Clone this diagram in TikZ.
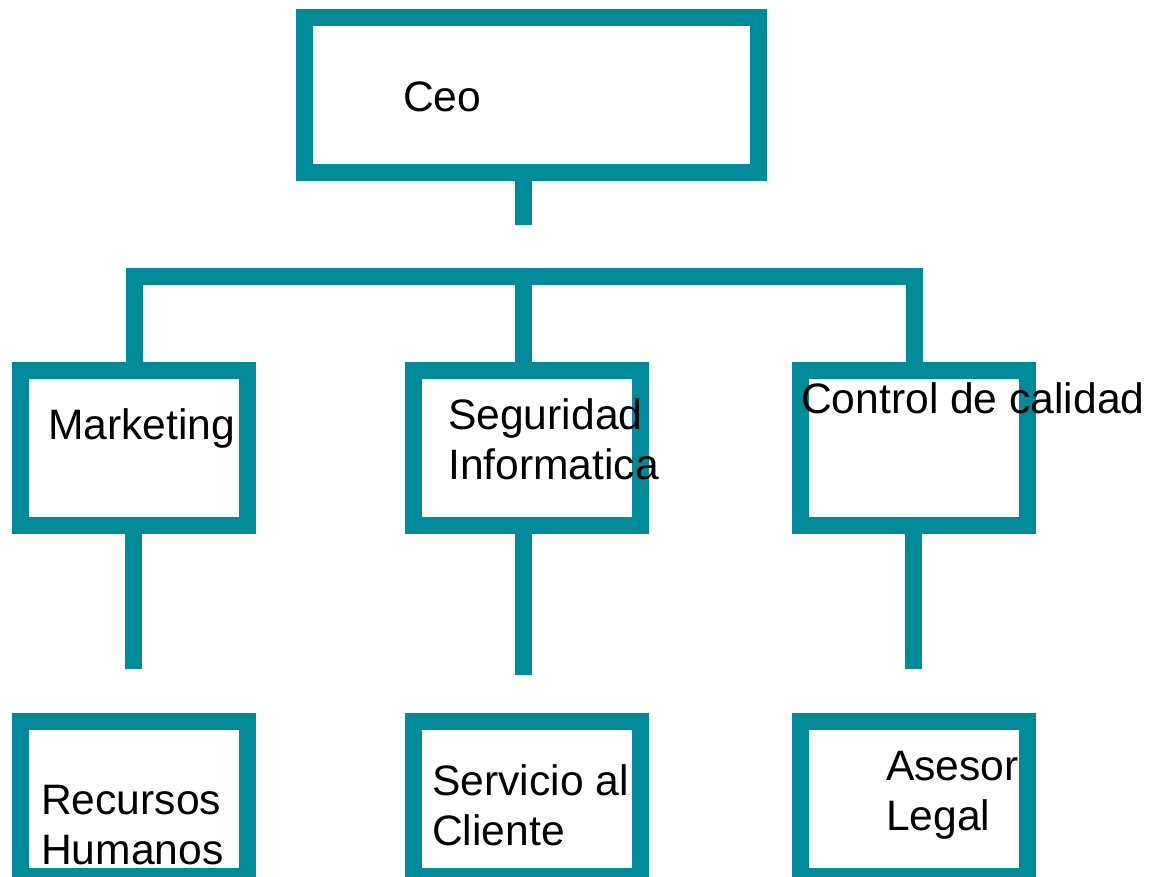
\documentclass[tikz,border=0pt]{standalone}
\usepackage{fontspec}
\setmainfont{Liberation Sans}
\usepackage{xcolor}
\usetikzlibrary{positioning}
\definecolor{orgteal}{RGB}{0,139,155}

\begin{document}
\begin{tikzpicture}[
        x=1pt, y=1pt,
        unit/.style={rectangle, draw=orgteal, line width=17pt, outer sep=8.5pt, inner sep=0pt, minimum width=227pt, minimum height=155pt},
        link/.style={draw=orgteal, line width=17pt},
        lbl/.style={anchor=base west, inner sep=0pt, align=left, font=\fontsize{42.6}{50.5}\selectfont}
    ]
        \path[use as bounding box, clip] (0,0) rectangle (1157,877);

        % Boxes
        \node[unit] (mkt) at (134,429) {};
        \node[unit, right=149pt of mkt] (seg) {};
        \node[unit, right=143pt of seg] (ctl) {};
        \node[unit, minimum width=454pt, above=181pt of seg, xshift=4.5pt] (ceo) {};
        \node[unit, below=179pt of mkt] (rh) {};
        \node[unit, below=179pt of seg] (sc) {};
        \node[unit, below=179pt of ctl] (al) {};

        % Ceo stub and bar
        \coordinate (ceostub) at (523.5,652);
        \coordinate (bar) at (523.5,600);
        \draw[link] (ceostub |- ceo.south) -- (ceostub);
        \draw[link] (mkt.north) -- (mkt.north |- bar) -- (ctl.north |- bar) -- (ctl.north);
        \draw[link] (bar) -- (seg.north -| bar);

        % Stubs under the middle row
        \coordinate (mktend) at (133.5,208);
        \coordinate (segend) at (523.5,202);
        \coordinate (ctlend) at (913.5,208);
        \draw[link] (mkt.south -| mktend) -- (mktend);
        \draw[link] (seg.south -| segend) -- (segend);
        \draw[link] (ctl.south -| ctlend) -- (ctlend);

        % Labels (base = last line)
        \node[lbl] (ceotxt) at (403,765) {Ceo};
        \node[lbl] (mkttxt) at (48,437) {Marketing};
        \node[lbl] (segtxt) at (448,397) {Seguridad\\Informatica};
        \node[lbl] (ctltxt) at (801,463) {Control de calidad};
        \node[lbl] (rhtxt) at (41,12) {Recursos\\Humanos};
        \node[lbl] (sctxt) at (432,31) {Servicio al\\Cliente};
        \node[lbl] (altxt) at (886,46) {Asesor\\Legal};

    \end{tikzpicture}
\end{document}
